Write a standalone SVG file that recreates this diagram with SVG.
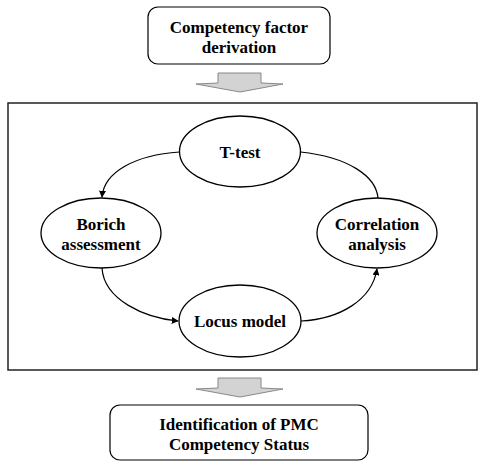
<svg xmlns="http://www.w3.org/2000/svg" width="483" height="462" viewBox="0 0 483 462">
<defs>
<style>
.box{fill:#fff;stroke:#000;stroke-width:1.2}
.ell{fill:#fff;stroke:#000;stroke-width:1.3}
.frame{fill:none;stroke:#222;stroke-width:1.5}
.blk{fill:#d3d3d3;stroke:#888;stroke-width:1}
.t{font-family:'Liberation Serif','Times New Roman','DejaVu Serif',serif;font-weight:bold;font-size:17px;fill:#000;text-anchor:middle}
.c{fill:none;stroke:#000;stroke-width:1.2}
</style>
<marker id="ah" viewBox="0 0 10 10" refX="9" refY="5" markerWidth="7" markerHeight="7" markerUnits="userSpaceOnUse" orient="auto">
<path d="M0,0 L10,5 L0,10 z" fill="#000"/>
</marker>
</defs>
<rect width="483" height="462" fill="#fff"/>
<g id="frame"><rect class="frame" x="8" y="103" width="469" height="267"/></g>
<g id="top">
<rect class="box" x="148" y="7" width="182" height="57" rx="10"/>
<text class="t" x="239" y="33">Competency factor</text>
<text class="t" x="239" y="53">derivation</text>
</g>
<g id="arrow1"><path class="blk" d="M218,73 L261,73 L261,83 L283,84 L240,92 L196,84 L218,83 z"/></g>
<g id="ttest">
<ellipse class="ell" cx="240" cy="151.5" rx="60.5" ry="35.5"/>
<text class="t" x="240" y="158">T-test</text>
</g>
<g id="borich">
<ellipse class="ell" cx="101" cy="233" rx="60" ry="35"/>
<text class="t" x="101" y="230">Borich</text>
<text class="t" x="101" y="250">assessment</text>
</g>
<g id="correlation">
<ellipse class="ell" cx="377" cy="233" rx="60" ry="35"/>
<text class="t" x="377" y="230">Correlation</text>
<text class="t" x="377" y="250">analysis</text>
</g>
<g id="locus">
<ellipse class="ell" cx="240" cy="321" rx="61" ry="36"/>
<text class="t" x="240" y="327">Locus model</text>
</g>
<g id="connectors">
<path class="c" d="M179.5,152 C135,155 104,172 102,197" marker-end="url(#ah)"/>
<path class="c" d="M300.5,152 C348,157 376,176 378,198"/>
<path class="c" d="M102,268 C104,300 145,318 178,321" marker-end="url(#ah)"/>
<path class="c" d="M301,321 C340,319 372,300 377,269" marker-end="url(#ah)"/>
</g>
<g id="arrow2"><path class="blk" d="M218,378 L261,378 L261,388 L283,389 L240,397 L196,389 L218,388 z"/></g>
<g id="bottom">
<rect class="box" x="110" y="405" width="258" height="55" rx="10"/>
<text class="t" x="239" y="430">Identification of PMC</text>
<text class="t" x="239" y="450">Competency Status</text>
</g>
</svg>
